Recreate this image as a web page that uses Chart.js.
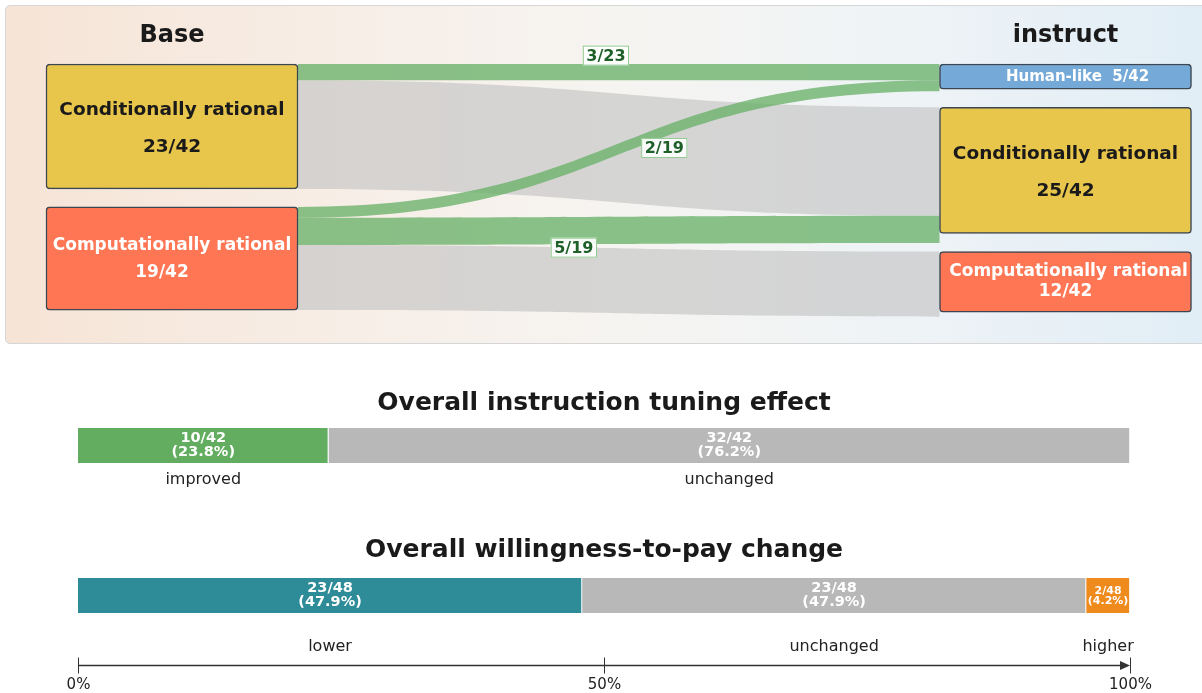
<!DOCTYPE html>
<html><head><meta charset="utf-8">
<script src="https://cdn.jsdelivr.net/npm/chart.js@4.4.1/dist/chart.umd.min.js"></script>
<style>
html,body{margin:0;padding:0;background:#fff;width:1202px;height:693px;overflow:hidden;font-family:'DejaVu Sans',sans-serif;}
#panel{position:absolute;left:5px;top:5px;width:1215px;height:337px;border:1.5px solid #d6d6d6;border-radius:5px;
background:linear-gradient(to right,#f6e4d6 0%,#f7ede5 25%,#f6f4f1 50%,#eef3f6 75%,#e0edf6 100%);}
#c1{position:absolute;left:0;top:0;}
#c2{position:absolute;left:0;top:345px;}
</style></head><body>
<div id="panel"></div>
<canvas id="c1" width="1202" height="345"></canvas>
<canvas id="c2" width="1202" height="348"></canvas>
<script>
// ---------------- DATA ----------------
const columnTitles = ['Base', 'instruct'];
const baseCategories = ['Conditionally rational', 'Computationally rational'];
const baseCounts = [23, 19];
const instructCategories = ['Human-like', 'Conditionally rational', 'Computationally rational'];
const instructCounts = [5, 25, 12];
const totalModels = 42;
const flowFrom = [0, 0, 1, 1, 1];      // index into baseCategories
const flowTo = [0, 1, 0, 1, 2];        // index into instructCategories
const flowValues = [3, 20, 2, 5, 12];

const effectTitles = ['Overall instruction tuning effect', 'Overall willingness-to-pay change'];
const rowTotals = [42, 48];
const segmentNames = [['improved', 'lower'], ['unchanged', 'unchanged'], ['', 'higher']];
const segmentCounts = [[10, 23], [32, 23], [0, 2]];
const axisTicks = [0, 50, 100];

// ---------------- STYLE / LAYOUT ----------------
const FONT = "'DejaVu Sans', sans-serif";
const nodeColor = {'Human-like': '#74a9d8', 'Conditionally rational': '#e8c64b', 'Computationally rational': '#ff7655'};
const nodeText = {'Human-like': '#ffffff', 'Conditionally rational': '#1a1a1a', 'Computationally rational': '#ffffff'};
const NODE_W = 252;
const LEFT_GAP = 3.32, RIGHT_GAP = 3.56;
const GRAY_FLOW = 'rgba(197,197,197,0.68)';
const GREEN_FLOW = 'rgba(100,175,100,0.75)';
const flowLabelLayout = {0: [0.48, -16.5], 2: [0.571, 16.5], 3: [0.43, 17]};
const leftLabelLayout = [{size: 18.5, dy: [-16, 20.5], dx: [0, 0]}, {size: 17, dy: [-13, 14.4], dx: [0, -10]}];
const rightLabelLayout = [{size: 15, dy: [0.5], dx: [12], single: true}, {size: 18.5, dy: [-16.4, 20.6], dx: [0, 0]}, {size: 17, dy: [-10.5, 9.5], dx: [3, 0]}];

function stackRanges(counts, gap) {
  let s = 0;
  return counts.map(c => { const r = [s, s + c]; s += c + gap; return r; });
}
const leftRanges = stackRanges(baseCounts, LEFT_GAP);
const rightRanges = stackRanges(instructCounts, RIGHT_GAP);

function bezierY(frac, ya, yb) {
  let lo = 0, hi = 1;
  for (let k = 0; k < 40; k++) {
    const s = (lo + hi) / 2;
    const fx = 1.5 * s - 1.5 * s * s + s * s * s;
    if (fx < frac) lo = s; else hi = s;
  }
  const s = (lo + hi) / 2;
  return ya + (yb - ya) * (3 * s * s - 2 * s * s * s);
}

function flowGeometry(chart) {
  const yL = chart.scales.yL, yR = chart.scales.yR, xs = chart.scales.x;
  const unit = Math.abs(yL.getPixelForValue(1) - yL.getPixelForValue(0));
  const x0 = xs.getPixelForValue(0) + NODE_W / 2, x1 = xs.getPixelForValue(1) - NODE_W / 2;
  const outOff = baseCounts.map(() => 0), inOff = instructCounts.map(() => 0);
  return flowValues.map((v, i) => {
    const s = flowFrom[i], t = flowTo[i];
    const ya0 = yL.getPixelForValue(leftRanges[s][0] + outOff[s]); outOff[s] += v;
    const yb0 = yR.getPixelForValue(rightRanges[t][0]) + inOff[t] * unit; inOff[t] += v;
    return {x0, x1, ya0, ya1: ya0 + v * unit, yb0, yb1: yb0 + v * unit, changed: baseCategories[s] !== instructCategories[t], s, t, v};
  });
}

const sankeyPlugin = {
  id: 'sankey',
  beforeDatasetsDraw(chart) {
    const ctx = chart.ctx;
    const geo = flowGeometry(chart);
    [false, true].forEach(pass => {
      geo.forEach(g => {
        if (g.changed !== pass) return;
        const xm = (g.x0 + g.x1) / 2;
        ctx.beginPath();
        ctx.moveTo(g.x0, g.ya0);
        ctx.bezierCurveTo(xm, g.ya0, xm, g.yb0, g.x1, g.yb0);
        ctx.lineTo(g.x1, g.yb1);
        ctx.bezierCurveTo(xm, g.yb1, xm, g.ya1, g.x0, g.ya1);
        ctx.closePath();
        ctx.fillStyle = g.changed ? GREEN_FLOW : GRAY_FLOW;
        ctx.fill();
      });
    });
  },
  afterDatasetsDraw(chart) {
    const ctx = chart.ctx;
    const xs = chart.scales.x;
    ctx.save();
    ctx.textAlign = 'center';
    ctx.textBaseline = 'middle';
    // column titles
    ctx.fillStyle = '#1a1a1a';
    ctx.font = 'bold 24px ' + FONT;
    columnTitles.forEach((t, i) => ctx.fillText(t, xs.getPixelForValue(i), 36));
    // node labels
    const drawNodes = (dsIndex, cats, counts, layouts) => {
      chart.getDatasetMeta(dsIndex).data.forEach((el, j) => {
        const cy = (el.y + el.base) / 2;
        const L = layouts[j];
        ctx.fillStyle = nodeText[cats[j]];
        ctx.font = 'bold ' + L.size + 'px ' + FONT;
        const frac = counts[j] + '/' + totalModels;
        if (L.single) {
          ctx.fillText(cats[j] + '  ' + frac, el.x + L.dx[0], cy + L.dy[0]);
        } else {
          ctx.fillText(cats[j], el.x + L.dx[0], cy + L.dy[0]);
          ctx.fillText(frac, el.x + L.dx[1], cy + L.dy[1]);
        }
      });
    };
    drawNodes(0, baseCategories, baseCounts, leftLabelLayout);
    drawNodes(1, instructCategories, instructCounts, rightLabelLayout);
    // flow labels
    const geo = flowGeometry(chart);
    ctx.font = 'bold 16px ' + FONT;
    geo.forEach((g, i) => {
      const lay = flowLabelLayout[i];
      if (!g.changed || !lay) return;
      const x = g.x0 + (g.x1 - g.x0) * lay[0];
      const yc = bezierY(lay[0], (g.ya0 + g.ya1) / 2, (g.yb0 + g.yb1) / 2) + lay[1];
      const txt = g.v + '/' + baseCounts[g.s];
      const w = ctx.measureText(txt).width + 7, h = 20;
      ctx.fillStyle = 'rgba(255,255,255,0.92)';
      ctx.fillRect(x - w / 2, yc - h / 2, w, h);
      ctx.strokeStyle = '#93c991';
      ctx.lineWidth = 1;
      ctx.strokeRect(x - w / 2 + 0.5, yc - h / 2 + 0.5, w - 1, h - 1);
      ctx.fillStyle = '#1f5f28';
      ctx.fillText(txt, x, yc + 1);
    });
    ctx.restore();
  }
};

const nodeDataset = (label, ranges, cats, col, axis) => ({
  label, yAxisID: axis, xAxisID: 'x',
  data: ranges.map(r => ({x: col, y: r})),
  backgroundColor: cats.map(c => nodeColor[c]),
  borderColor: '#3b4651', borderWidth: 1.5, borderRadius: 4, borderSkipped: false,
  barThickness: NODE_W, grouped: false, clip: false
});

new Chart(document.getElementById('c1'), {
  type: 'bar',
  data: {
    datasets: [
      nodeDataset('Base', leftRanges, baseCategories, 0, 'yL'),
      nodeDataset('instruct', rightRanges, instructCategories, 1, 'yR')
    ]
  },
  options: {
    responsive: false, animation: false, events: [],
    layout: {padding: {left: 172, right: 136.5, top: 64, bottom: 31}},
    plugins: {legend: {display: false}, tooltip: {enabled: false}},
    scales: {
      x: {type: 'linear', min: 0, max: 1, offset: false, display: false},
      yL: {axis: 'y', type: 'linear', min: 0, max: 46.04, reverse: true, display: false},
      yR: {axis: 'y', type: 'linear', min: 0, max: 49.5, reverse: true, display: false}
    }
  },
  plugins: [sankeyPlugin]
});

// ---------------- BOTTOM BARS ----------------
const segColors = [['#62ad5f', '#2e8b98'], ['#b7b8b7', '#b7b8b7'], ['#ef8a1d', '#ef8a1d']];
const titleOffset = [25, 27.5];
const nameOffset = [17, 34];

const barsPlugin = {
  id: 'barsText',
  afterDatasetsDraw(chart) {
    const ctx = chart.ctx, xs = chart.scales.x, area = chart.chartArea;
    ctx.save();
    ctx.textAlign = 'center';
    ctx.textBaseline = 'middle';
    const cx = (area.left + area.right) / 2;
    const firstMeta = chart.getDatasetMeta(0);
    effectTitles.forEach((t, r) => {
      const el = firstMeta.data[r];
      const top = el.y - el.height / 2;
      ctx.fillStyle = '#1a1a1a';
      ctx.font = 'bold 25px ' + FONT;
      ctx.fillText(t, cx, top - titleOffset[r]);
    });
    segmentCounts.forEach((counts, k) => {
      const meta = chart.getDatasetMeta(k);
      counts.forEach((c, r) => {
        if (!c) return;
        const el = meta.data[r];
        const x = (el.x + el.base) / 2;
        const w = Math.abs(el.x - el.base);
        const pct = (c / rowTotals[r] * 100).toFixed(1);
        ctx.fillStyle = '#ffffff';
        if (w < 60) {
          ctx.font = 'bold 11px ' + FONT;
          ctx.fillText(c + '/' + rowTotals[r], x, el.y - 4.5);
          ctx.fillText('(' + pct + '%)', x, el.y + 5.5);
        } else {
          ctx.font = 'bold 14.5px ' + FONT;
          ctx.fillText(c + '/' + rowTotals[r], x, el.y - 7);
          ctx.fillText('(' + pct + '%)', x, el.y + 7);
        }
        ctx.fillStyle = '#222222';
        ctx.font = '16px ' + FONT;
        ctx.fillText(segmentNames[k][r], x, el.y + el.height / 2 + nameOffset[r]);
      });
    });
    // axis with arrow
    const ay = area.bottom - 5;
    const xa = xs.getPixelForValue(axisTicks[0]), xb = xs.getPixelForValue(axisTicks[axisTicks.length - 1]);
    ctx.strokeStyle = '#333333';
    ctx.fillStyle = '#333333';
    ctx.lineWidth = 1.5;
    ctx.beginPath();
    ctx.moveTo(xa, ay); ctx.lineTo(xb - 6, ay); ctx.stroke();
    ctx.beginPath();
    ctx.moveTo(xb, ay); ctx.lineTo(xb - 10, ay - 4.5); ctx.lineTo(xb - 10, ay + 4.5); ctx.closePath(); ctx.fill();
    ctx.lineWidth = 1;
    ctx.font = '15px ' + FONT;
    ctx.fillStyle = '#222222';
    axisTicks.forEach(t => {
      const x = Math.round(xs.getPixelForValue(t)) + 0.5;
      ctx.beginPath(); ctx.moveTo(x, ay - 8); ctx.lineTo(x, ay + 8); ctx.stroke();
      ctx.fillText(t + '%', x, ay + 20);
    });
    ctx.restore();
  }
};

new Chart(document.getElementById('c2'), {
  type: 'bar',
  data: {
    labels: effectTitles,
    datasets: segmentCounts.map((counts, k) => ({
      label: 'segment ' + k,
      data: counts.map((c, r) => c / rowTotals[r] * 100),
      backgroundColor: segColors[k],
      borderColor: 'rgba(255,255,255,0.9)',
      borderWidth: {left: 0, right: 1.2, top: 0, bottom: 0},
      borderSkipped: false,
      barThickness: 35
    }))
  },
  options: {
    indexAxis: 'y', responsive: false, animation: false, events: [],
    layout: {padding: {left: 78, right: 72, top: 25.5, bottom: 22.5}},
    plugins: {legend: {display: false}, tooltip: {enabled: false}},
    scales: {
      x: {stacked: true, min: 0, max: 100, display: false},
      y: {stacked: true, display: false}
    }
  },
  plugins: [barsPlugin]
});
</script>
</body></html>
